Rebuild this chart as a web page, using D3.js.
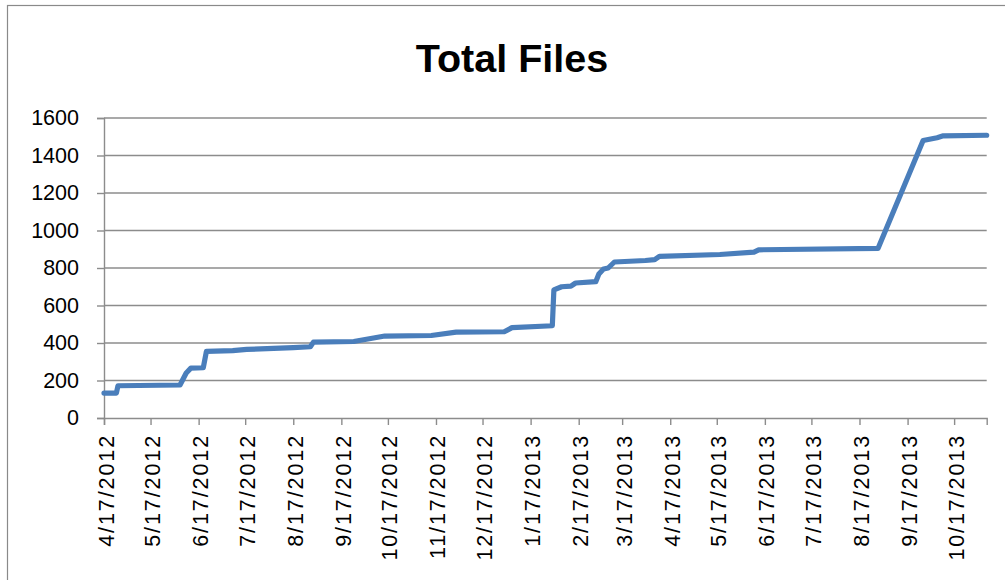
<!DOCTYPE html>
<html>
<head>
<meta charset="utf-8">
<script src="https://cdn.jsdelivr.net/npm/d3@7"></script>
<style>
  html, body { margin: 0; padding: 0; background: #fff; }
  svg { display: block; }
  text { font-family: "Liberation Sans", Arial, sans-serif; fill: #000; }
</style>
</head>
<body>
<svg id="chart" width="1005" height="580"></svg>
<script>
// ---- data ----
const chartTitle = "Total Files";
const dates = [
  "2012-04-17","2012-04-25","2012-04-26","2012-06-05","2012-06-09","2012-06-12",
  "2012-06-20","2012-06-22","2012-07-09","2012-07-18","2012-08-17","2012-08-28",
  "2012-08-30","2012-09-25","2012-10-15","2012-11-14","2012-11-30","2012-12-31",
  "2013-01-05","2013-01-31","2013-02-01","2013-02-06","2013-02-12","2013-02-15",
  "2013-02-28","2013-03-02","2013-03-05","2013-03-08","2013-03-12","2013-04-01",
  "2013-04-07","2013-04-10","2013-05-19","2013-06-10","2013-06-13","2013-08-29",
  "2013-09-27","2013-10-06","2013-10-10","2013-11-07"
];
const totalFiles = [
  133,133,172,176,240,266,
  268,355,359,366,375,380,
  405,408,437,440,458,460,
  482,492,683,700,703,720,
  727,768,795,800,832,840,
  845,862,872,885,897,905,
  1480,1495,1505,1508
];
const xTickLabels = [
  "4/17/2012","5/17/2012","6/17/2012","7/17/2012","8/17/2012","9/17/2012",
  "10/17/2012","11/17/2012","12/17/2012","1/17/2013","2/17/2013","3/17/2013",
  "4/17/2013","5/17/2013","6/17/2013","7/17/2013","8/17/2013","9/17/2013","10/17/2013"
];
const yTickValues = [0,200,400,600,800,1000,1200,1400,1600];
const xDomain = ["2012-04-17","2013-11-07"];

// ---- layout ----
const svg = d3.select("#chart");
const parseISO = d3.timeParse("%Y-%m-%d");
const parseMDY = d3.timeParse("%m/%d/%Y");
const L = 104, R = 986.7, T = 118, B = 418;

const x = d3.scaleTime().domain(xDomain.map(parseISO)).range([L, R]);
const y = d3.scaleLinear().domain([0, 1600]).range([B, T]);

// chart border
svg.append("rect").attr("x", 7.5).attr("y", 5.5).attr("width", 1000).attr("height", 600)
  .attr("fill", "#fff").attr("stroke", "#8a8a8a").attr("stroke-width", 1.2);

// title
svg.append("text").attr("x", 512).attr("y", 72).attr("text-anchor", "middle")
  .attr("font-size", 39.5).attr("font-weight", "bold").text(chartTitle);

// gridlines
svg.append("g").selectAll("line").data(yTickValues.filter(v => v > 0)).join("line")
  .attr("x1", L).attr("x2", R)
  .attr("y1", d => y(d)).attr("y2", d => y(d))
  .attr("stroke", "#8c8c8c").attr("stroke-width", 1.4);

// y axis
const yAxis = d3.axisLeft(y).tickValues(yTickValues).tickSize(7).tickPadding(18)
  .tickFormat(d3.format("d"));
const gy = svg.append("g").attr("transform", `translate(${L},0)`).call(yAxis);
gy.select(".domain").attr("stroke", "#8c8c8c").attr("stroke-width", 1.4);
gy.selectAll(".tick line").attr("stroke", "#8c8c8c").attr("stroke-width", 1.4);
gy.selectAll(".tick text").attr("font-size", 21.5).attr("font-family", "Liberation Sans, Arial, sans-serif")
  .attr("fill", "#000");

// x axis
const xTicks = xTickLabels.map(parseMDY);
const xAxis = d3.axisBottom(x).tickValues(xTicks).tickSize(7).tickPadding(0)
  .tickFormat((d, i) => xTickLabels[i]);
const gx = svg.append("g").attr("transform", `translate(0,${B})`).call(xAxis);
gx.select(".domain").attr("stroke", "#8c8c8c").attr("stroke-width", 1.4);
gx.selectAll(".tick line").attr("stroke", "#8c8c8c").attr("stroke-width", 1.4);
gx.selectAll(".tick text")
  .attr("font-size", 21.5).attr("font-family", "Liberation Sans, Arial, sans-serif")
  .attr("fill", "#000")
  .attr("text-anchor", "end")
  .attr("letter-spacing", 1.9)
  .attr("dy", null)
  .attr("transform", "translate(9,16) rotate(-90)")
  .attr("y", 0).attr("x", 0);

// line
const data = dates.map((d, i) => ({ date: parseISO(d), value: totalFiles[i] }));
const line = d3.line().x(d => x(d.date)).y(d => y(d.value));
svg.append("path").datum(data).attr("d", line)
  .attr("fill", "none").attr("stroke", "#4a7ebb").attr("stroke-width", 5.2)
  .attr("stroke-linejoin", "round").attr("stroke-linecap", "round");
</script>
</body>
</html>
